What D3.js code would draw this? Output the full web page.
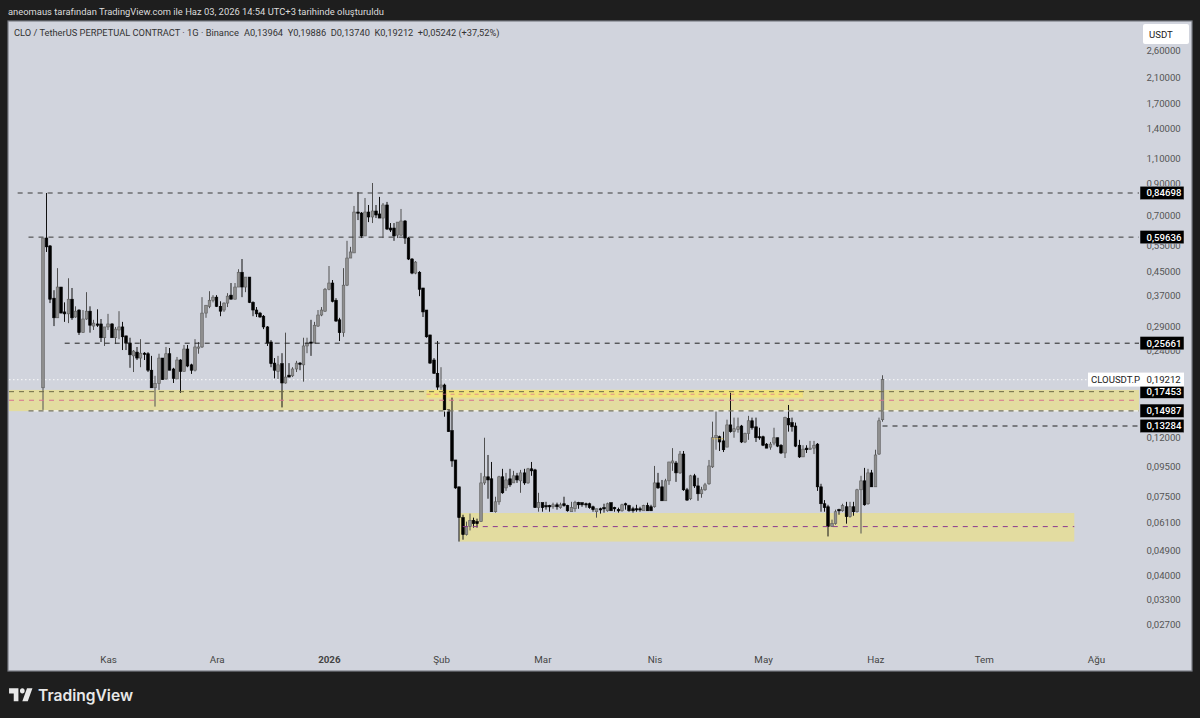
<!DOCTYPE html>
<html><head><meta charset="utf-8">
<script src="https://cdnjs.cloudflare.com/ajax/libs/d3/7.8.5/d3.min.js"></script>
<style>html,body{margin:0;padding:0;background:#1e1e1e}svg{display:block}text{font-family:Roboto,sans-serif}</style>
</head><body><svg id="c" width="1200" height="718"></svg>
<script>
const opens=[.180,.592,.556,.367,.314,.401,.329,.324,.364,.316,.334,.279,.311,.331,.294,.299,.299,.268,.292,.299,.268,.285,.292,.272,.257,.232,.239,.228,.237,.236,.207,.180,.186,.228,.193,.236,.209,.193,.2245,.205,.245,.216,.207,.247,.249,.326,.344,.361,.370,.344,
.334,.353,.376,.364,.401,.451,.401,.434,.355,.334,.326,.318,.292,.259,.219,.205,.218,.187,.199,.198,.209,.219,.216,.251,.259,.257,.294,.321,.331,.394,
.414,.361,.309,.279,.407,.505,.526,.728,.722,.602,.728,.700,.734,.717,.694,.770,.641,.641,.606,.606,.678,.592,.501,.448,.451,.398,.334,.274,.2245,.202,
.181,.184,.151,.128,.1014,.0819,.0641,.056,.0597,.0626,.0621,.0621,.0845,.0887,.0873,.0672,.0727,.0887,.0812,.0873,.0845,.0894,.0859,.0915,.0845,.0945,.0937,.0694,.0722,.0705,
.0705,.0699,.071,.0694,.0716,.0705,.0672,.0688,.0722,.0722,.0716,.0716,.0699,.0672,.0688,.0694,.0677,.0722,.0694,.0683,.0677,.0716,.0705,.0688,.0688,.0688,.0677,.0705,.0699,.0699,
.0845,.0819,.0733,.0859,.099,.099,.0915,.1063,.08,.0745,.0894,.0825,.0775,.08,.0839,.096,.121,.122,.118,.1123,.134,.127,.129,.1328,.117,.125,.1385,.132,.122,.122,
.115,.1123,.116,.121,.114,.1072,.141,.1365,.1328,.114,.1039,.1114,.1105,.1114,.115,.0819,.0716,.0699,.0597,.0611,.0683,.0677,.0699,.0646,.0699,.0672,.08,.0859,.0716,.0915,
.0819,.1063,.13964];
const highs=[.592,.847,.560,.391,.466,.401,.355,.430,.398,.344,.336,.334,.385,.344,.309,.336,.311,.292,.324,.301,.292,.331,.304,.272,.268,.243,.249,.265,.239,.239,.232,.198,.236,.228,.249,.247,.211,.230,.226,.253,.253,.218,.265,.259,.370,.347,.388,.376,.376,.358,
.355,.382,.414,.414,.462,.501,.434,.434,.358,.342,.329,.321,.294,.263,.228,.232,.237,.279,.219,.212,.223,.221,.268,.268,.309,.304,.334,.342,.398,.474,
.424,.367,.314,.466,.579,.552,.764,.854,.728,.814,.770,.917,.770,.821,.782,.789,.667,.667,.672,.746,.683,.597,.505,.493,.455,.398,.334,.274,.228,.261,
.212,.186,.151,.1665,.1014,.0819,.0656,.0621,.0662,.0641,.0636,.0915,.121,.1055,.0998,.0757,.0894,.0945,.0915,.0945,.093,.0915,.0937,.0945,.0952,.0998,.0945,.0781,.0722,.0727,
.071,.0722,.0722,.0722,.0757,.071,.0727,.0733,.0727,.0722,.0722,.0722,.0705,.0688,.0694,.0716,.0722,.0722,.0699,.0694,.0716,.0722,.071,.0699,.071,.0699,.071,.0722,.071,.0967,
.0915,.0865,.0873,.0998,.1114,.1006,.1089,.1089,.0812,.0901,.0908,.088,.0819,.0845,.1014,.1375,.150,.123,.127,.1397,.173,.142,.142,.134,.126,.144,.142,.142,.131,.123,
.116,.117,.131,.121,.115,.143,.157,.142,.1365,.119,.114,.114,.118,.118,.116,.0839,.0737,.071,.0631,.0683,.0688,.0716,.0727,.0727,.0727,.0806,.0894,.0952,.0945,.0937,
.110,.142,.19886];
const lows=[.151,.530,.353,.294,.314,.326,.304,.301,.309,.314,.274,.279,.309,.279,.285,.292,.259,.251,.285,.268,.255,.265,.243,.243,.211,.204,.2245,.212,.2245,.204,.180,.155,.177,.192,.192,.207,.187,.193,.173,.205,.212,.201,.205,.236,.247,.314,.339,.355,.342,.318,
.329,.342,.364,.364,.401,.370,.385,.353,.318,.316,.314,.287,.251,.212,.194,.193,.154,.186,.196,.196,.204,.207,.189,.237,.232,.257,.292,.318,.329,.391,
.355,.304,.261,.270,.404,.505,.526,.683,.592,.602,.672,.667,.694,.694,.592,.631,.621,.579,.592,.602,.565,.497,.444,.444,.373,.316,.268,.218,.201,.177,
.177,.143,.127,.096,.0806,.053,.0538,.0556,.0579,.0592,.0592,.0621,.0832,.0745,.0672,.0667,.071,.0775,.0793,.0819,.0845,.0845,.0781,.0832,.0839,.0894,.0694,.0672,.0672,.0683,
.0672,.0688,.0683,.0688,.0699,.0672,.0672,.0672,.0688,.0699,.0694,.0688,.0672,.0641,.0662,.0667,.0672,.0677,.0672,.0667,.0672,.0683,.0672,.0667,.0672,.0672,.0677,.0677,.0677,.0694,
.0806,.0733,.0733,.0832,.093,.0852,.0908,.0793,.0733,.0737,.0812,.0733,.0751,.0793,.0832,.0952,.110,.1089,.108,.1123,.126,.121,.126,.116,.116,.119,.129,.117,.119,.1132,
.1114,.110,.114,.1123,.1063,.103,.127,.127,.1123,.103,.1039,.1072,.110,.1063,.0793,.0672,.0672,.0552,.0597,.0606,.0656,.0672,.0611,.0641,.0651,.0667,.0565,.0705,.071,.0819,
.0819,.1055,.1374];
const closes=[.592,.552,.364,.314,.401,.326,.324,.364,.314,.331,.279,.311,.331,.296,.301,.296,.268,.292,.299,.268,.287,.292,.270,.257,.234,.241,.228,.237,.236,.207,.180,.186,.228,.192,.236,.207,.194,.2245,.205,.245,.214,.207,.249,.249,.326,.347,.361,.370,.344,.331,
.353,.373,.364,.401,.451,.401,.434,.355,.334,.324,.316,.292,.257,.218,.207,.216,.187,.196,.196,.209,.219,.218,.251,.257,.257,.296,.321,.334,.394,.414,
.358,.306,.279,.407,.505,.530,.728,.722,.602,.728,.700,.734,.711,.694,.770,.636,.631,.602,.672,.678,.592,.501,.448,.489,.394,.329,.270,.219,.202,.181,
.184,.151,.127,.1006,.0812,.0641,.056,.0597,.0626,.0611,.0611,.0845,.0887,.0865,.0672,.0727,.0887,.0781,.0865,.0832,.0894,.0865,.0915,.0845,.0945,.093,.0694,.0722,.0694,.0699,
.0699,.071,.0699,.071,.0705,.0677,.0694,.0722,.071,.071,.071,.0694,.0683,.0688,.0683,.0688,.0716,.0677,.0688,.0677,.071,.071,.0677,.0677,.0683,.0683,.0705,.0677,.0677,.0845,
.0812,.0733,.0859,.0998,.1006,.0915,.1063,.08,.0737,.0894,.0825,.0775,.08,.0832,.0967,.121,.123,.117,.110,.134,.127,.130,.132,.117,.125,.1385,.131,.121,.121,.114,
.1114,.115,.121,.1132,.1072,.142,.134,.132,.1132,.1039,.1105,.110,.1114,.114,.0819,.0716,.0694,.0597,.0611,.0672,.0677,.0705,.0646,.0699,.0672,.08,.0859,.071,.0915,.0819,
.1055,.1385,.19212];
const priceTicks=[2.6,2.1,1.7,1.4,1.1,0.9,0.7,0.55,0.45,0.37,0.29,0.24,0.12,0.095,0.075,0.061,0.049,0.04,0.033,0.027];
const monthLabels=["Kas","Ara","2026","Şub","Mar","Nis","May","Haz","Tem","Ağu"];
const monthDates=["2025-11-01","2025-12-01","2026-01-01","2026-02-01","2026-03-01","2026-04-01","2026-05-01","2026-06-01","2026-07-01","2026-08-01"];
const firstDay="2025-10-14";
const levelPrices=[.84698,.59636,.25661,.17453,.14987,.13284];
const levelStart=["2025-10-07","2025-10-10","2025-10-20","2025-09-15","2025-10-10","2026-06-03"];
const lastPrice=.19212;

const parse=s=>new Date(s+"T00:00:00Z");
const day=864e5;
const dateOf=i=>new Date(+parse(firstDay)+i*day);
const x=d3.scaleUtc().domain([parse(firstDay),parse("2026-08-01")]).range([43,1096]);
const y=d3.scaleLog().domain([.84698,.13284]).range([193,426]);
const fmt=v=>v.toFixed(5).replace(".",",");
const svg=d3.select("#c");
svg.append("rect").attr("x",8).attr("y",21).attr("width",1184).attr("height",650).attr("fill","#d1d4dd").attr("stroke","#7a7d85").attr("stroke-width",1.2);

const plotR=1139;
function zone(x0,x1,p0,p1,c){svg.append("rect").attr("x",x0).attr("width",x1-x0).attr("y",y(p0)).attr("height",y(p1)-y(p0)).attr("fill",c);}
zone(9,plotR,.177,.1495,"#e3dca0");
zone(x(dateOf(106)),x(dateOf(210)),.177,.1665,"#f2e37e");
zone(x(dateOf(115)),x(dateOf(285)),.0665,.053,"#e3dca0");

function hline(x0,x1,p,c,dash,w,off){svg.append("line").attr("x1",x0).attr("x2",x1).attr("y1",y(p)).attr("y2",y(p)).attr("stroke",c).attr("stroke-dasharray",dash).attr("stroke-dashoffset",off||0).attr("stroke-width",w||1);}
hline(9,plotR,lastPrice,"#f4f4f6","1.5 2.5",1.2);
const g=svg.append("g");
d3.range(opens.length).forEach(i=>{
  const up=closes[i]>=opens[i],cx=Math.round(x(dateOf(i))*2)/2;
  g.append("line").attr("x1",cx).attr("x2",cx).attr("y1",y(highs[i])).attr("y2",y(lows[i])).attr("stroke",up?"#505050":"#111").attr("stroke-width",1);
  const t=y(Math.max(opens[i],closes[i])),b=y(Math.min(opens[i],closes[i]));
  g.append("rect").attr("x",cx-1.3).attr("width",2.6).attr("y",t).attr("height",Math.max(b-t,1.2))
   .attr("fill",up?"#8e8e8e":"#000").attr("stroke",up?"#5e5e5e":"#000").attr("stroke-width",.6);
});
hline(x(parse(levelStart[0])),plotR,levelPrices[0],"#3a3a3a","5 5");
hline(x(parse(levelStart[1])),plotR,levelPrices[1],"#3a3a3a","5 5");
hline(x(parse(levelStart[2])),plotR,levelPrices[2],"#222","5 5");
hline(9,plotR,levelPrices[3],"#6d6a45","5 5");
hline(9,plotR,.163,"#d8708f","5 5",1.2);
hline(x(dateOf(106)),x(dateOf(210)),.171,"#dc6e8c","4 4",.7);
hline(x(parse(levelStart[4])),plotR,levelPrices[4],"#f2f2f2","5 5",1.2,5);
hline(x(parse(levelStart[4])),plotR,levelPrices[4],"#77766a","5 5",1.2);
hline(x(parse(levelStart[5])),plotR,levelPrices[5],"#222","5 5");
hline(x(dateOf(116)),x(dateOf(285)),.0597,"#8a3a8e","5 5");
hline(x(dateOf(185)),x(dateOf(188)),.12,"#d8b84a","2 1",1);

const ay=svg.append("g").attr("transform",`translate(1146.5,-1.5)`).call(d3.axisRight(y).tickValues(priceTicks).tickSize(0).tickPadding(0).tickFormat(fmt));
ay.select(".domain").remove();
ay.selectAll("text").attr("fill","#555").style("font-size","9.6px").style("font-family","Roboto,sans-serif");
const ax=svg.append("g").attr("transform","translate(0,656)").call(d3.axisBottom(x).tickValues(monthDates.map(parse)).tickSize(0).tickPadding(0).tickFormat((d,i)=>monthLabels[i]));
ax.select(".domain").remove();
ax.selectAll("text").attr("fill","#444").style("font-size","9.8px").style("font-family","Roboto,sans-serif").style("font-weight",(d,i)=>monthLabels[i]==="2026"?"700":"400");
levelPrices.forEach(p=>{
  svg.append("rect").attr("x",1140).attr("width",44).attr("y",y(p)-6.8).attr("height",13.5).attr("fill","#000").attr("stroke","#d1d4dd").attr("stroke-width",.5);
  svg.append("text").attr("x",1146.5).attr("y",y(p)+3.4).attr("fill","#fff").style("font-size","9.6px").style("font-weight","500").text(fmt(p));
});
svg.append("rect").attr("x",1088).attr("width",52).attr("y",y(lastPrice)-7).attr("height",14).attr("fill","#fff");
svg.append("rect").attr("x",1140).attr("width",44).attr("y",y(lastPrice)-7).attr("height",14).attr("fill","#fff");
svg.append("text").attr("x",1091).attr("y",y(lastPrice)+3.4).attr("fill","#222").style("font-size","9.6px").text("CLOUSDT.P");
svg.append("text").attr("x",1146.5).attr("y",y(lastPrice)+3.4).attr("fill","#222").style("font-size","9.6px").text(fmt(lastPrice));
svg.append("rect").attr("x",1143).attr("y",24).attr("width",46).attr("height",20).attr("rx",2).attr("fill","#fff");
svg.append("text").attr("x",1149).attr("y",38).attr("fill","#222").style("font-size","9.6px").text("USDT");
svg.append("text").attr("x",8).attr("y",15).attr("fill","#dcdcdc").style("font-size","9.4px").text("aneomaus tarafından TradingView.com ile Haz 03, 2026 14:54 UTC+3 tarihinde oluşturuldu");
svg.append("text").attr("x",14).attr("y",36).attr("fill","#333").style("font-size","9.3px").text("CLO / TetherUS PERPETUAL CONTRACT · 1G · Binance");
svg.append("text").attr("x",244).attr("y",36).attr("fill","#333").style("font-size","9.25px").style("white-space","pre").text("A0,13964  Y0,19886  D0,13740  K0,19212  +0,05242 (+37,52%)");
svg.append("path").attr("fill","#e8e8e8").attr("transform","translate(7.5,683) scale(.78,.87)").attr("d","M14 6H2v6h6v9h6V6Zm12 15h-7l6-15h7l-6 15Zm-7-9a3 3 0 1 0 0-6 3 3 0 0 0 0 6Z");
svg.append("text").attr("x",38).attr("y",701).attr("fill","#e8e8e8").style("font-size","15.6px").style("font-weight","600").style("font-family","Inter,sans-serif").text("TradingView");
</script></body></html>
